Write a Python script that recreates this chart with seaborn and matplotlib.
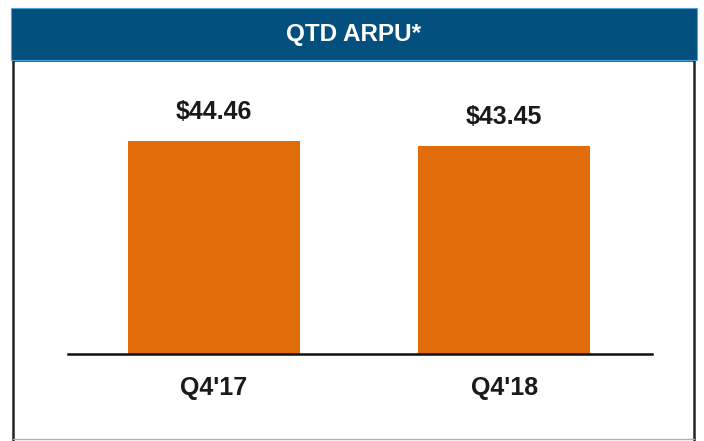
import matplotlib
matplotlib.use("Agg")
import matplotlib.pyplot as plt
import seaborn as sns
import pandas as pd
from matplotlib.patches import Rectangle
from matplotlib.lines import Line2D

categories = ["Q4'17", "Q4'18"]
values = [44.46, 43.45]
value_labels = ["$44.46", "$43.45"]
title = "QTD ARPU*"

sns.set_theme(style="white")
plt.rcParams['font.family'] = ['Liberation Sans', 'DejaVu Sans']

W, H = 704, 441
fig = plt.figure(figsize=(W / 100, H / 100), dpi=100)
fig.patch.set_facecolor("white")

def fx(x):
    return x / W

def fy(y):
    return 1 - y / H

# outer box sides
for (x0, y0, x1, y1, c, lw) in [(13, 60, 13, 441, "#222222", 1.8),
                                 (694, 60, 694, 441, "#222222", 1.8),
                                 (13, 60, 694, 60, "#222222", 1.8),
                                 (13, 439, 694, 439, "#b0b0b0", 1.0)]:
    fig.lines.append(Line2D([fx(x0), fx(x1)], [fy(y0), fy(y1)], transform=fig.transFigure,
                            color=c, linewidth=lw, zorder=-1))
# header band
fig.patches.append(Rectangle((fx(11), fy(60)), fx(697) - fx(11), fy(8) - fy(60),
                             transform=fig.transFigure, facecolor="#03507E",
                             edgecolor="#4fa3d8", linewidth=0.8, zorder=-0.5))
fig.text(fx(354), fy(34), title, color="white", fontsize=17.5, fontweight="bold",
         ha="center", va="center")

ax_left, ax_right = 68, 652
ax_bottom, ax_top = 354, 70
ax = fig.add_axes([fx(ax_left), fy(ax_bottom), fx(ax_right) - fx(ax_left),
                   fy(ax_top) - fy(ax_bottom)])
ax.set_facecolor("none")
ax.set_zorder(2)

df = pd.DataFrame({"cat": categories, "val": values})
sns.barplot(data=df, x="cat", y="val", color="#E36C0A", saturation=1,
            width=0.593, ax=ax)
for p in ax.patches:
    p.set_edgecolor("none")

ax.set_xlim(-0.503, 1.509)
ax.set_ylim(0, 284 / (213 / 44.46))

for i, (v, lab) in enumerate(zip(values, value_labels)):
    ax.annotate(lab, (i, v), xytext=(0, 12), textcoords="offset points",
                ha="center", va="bottom", fontsize=18, fontweight="bold",
                color="#1a1a1a")

for s in ["top", "right", "left"]:
    ax.spines[s].set_visible(False)
ax.spines["bottom"].set_color("#111111")
ax.spines["bottom"].set_linewidth(1.8)
ax.set_yticks([])
ax.set_xlabel("")
ax.set_ylabel("")
ax.tick_params(axis="x", length=0, pad=16, labelsize=18, labelcolor="#1a1a1a")
for t in ax.get_xticklabels():
    t.set_fontweight("bold")

fig.savefig("out.png", dpi=100)
